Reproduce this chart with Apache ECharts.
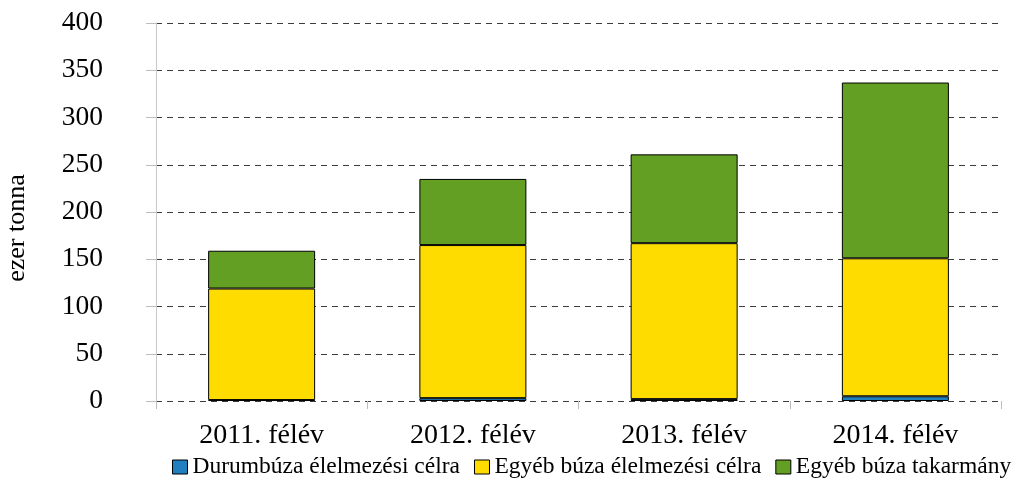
<!DOCTYPE html>
<html>
<head>
<meta charset="utf-8">
<script src="https://cdn.jsdelivr.net/npm/echarts@6/dist/echarts.min.js"></script>
<style>
  html, body { margin: 0; padding: 0; background: #fff; }
  #chart { width: 1014px; height: 479px; }
</style>
</head>
<body>
<div id="chart"></div>
<script>
const categories = ['2011. félév', '2012. félév', '2013. félév', '2014. félév'];
const durum = [1, 3, 2, 5];
const egyebElelmezesi = [118, 162, 165, 146];
const egyebTakarmany = [40, 70, 94, 186];
const seriesNames = ['Durumbúza élelmezési célra', 'Egyéb búza élelmezési célra', 'Egyéb búza takarmány'];
const seriesColors = ['#1f7fbf', '#ffdc00', '#629f22'];

const font = 'Liberation Serif';
const chart = echarts.init(document.getElementById('chart'));

const makeBar = (name, data, color) => ({
  name,
  type: 'bar',
  stack: 'total',
  data,
  barWidth: 107,
  itemStyle: { color, borderColor: '#000', borderWidth: 1 },
});

const option = {
  animation: false,
  textStyle: { fontFamily: font },
  grid: { left: 156, right: 13, top: 23, bottom: 78, outerBoundsMode: 'none' },
  legend: {
    left: 172,
    top: 455,
    width: 900,
    padding: 0,
    itemWidth: 15,
    itemHeight: 14,
    itemGap: 14,
    icon: 'rect',
    textStyle: { fontFamily: font, fontSize: 23.5, color: '#000' },
    data: seriesNames.map((n) => ({ name: n, itemStyle: { borderColor: '#000', borderWidth: 1 } })),
  },
  xAxis: {
    type: 'category',
    data: categories,
    axisLine: { show: false },
    axisTick: { show: true, length: 8, lineStyle: { color: '#bdbdbd' } },
    axisLabel: { fontFamily: font, fontSize: 28, color: '#000', margin: 21 },
  },
  yAxis: {
    type: 'value',
    min: 0,
    max: 400,
    interval: 50,
    name: 'ezer tonna',
    nameLocation: 'middle',
    nameGap: 126,
    nameRotate: 90,
    nameTextStyle: { fontFamily: font, fontSize: 26, color: '#000', padding: [0, 32, 0, 0] },
    axisLine: { show: true, lineStyle: { color: '#c8c8c8' } },
    axisTick: { show: true, length: 10, lineStyle: { color: '#bdbdbd' } },
    axisLabel: { fontFamily: font, fontSize: 27.5, color: '#000', margin: 53 },
    splitLine: { show: true, lineStyle: { color: '#3c3c3c', type: [6, 5], width: 1 } },
  },
  series: [
    makeBar(seriesNames[0], durum, seriesColors[0]),
    makeBar(seriesNames[1], egyebElelmezesi, seriesColors[1]),
    makeBar(seriesNames[2], egyebTakarmany, seriesColors[2]),
  ],
};

chart.setOption(option);
</script>
</body>
</html>
